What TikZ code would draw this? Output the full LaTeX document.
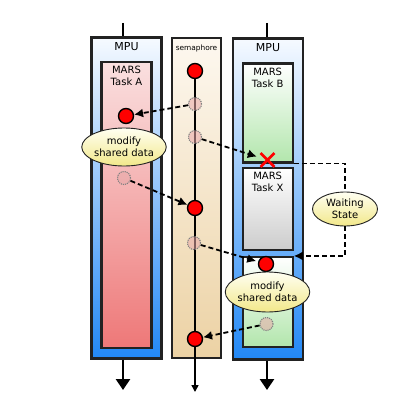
\documentclass[tikz,border=0pt]{standalone}
\usepackage{fontspec}
\setmainfont{DejaVu Sans}
\usetikzlibrary{arrows.meta,positioning,shapes.geometric,shapes.misc}

\definecolor{mputop}{HTML}{F6FAFF}
\definecolor{mpubot}{HTML}{2288F6}
\definecolor{semtop}{HTML}{FDF8F0}
\definecolor{sembot}{HTML}{ECD2A4}
\definecolor{pinktop}{HTML}{FAE0E0}
\definecolor{pinkbot}{HTML}{EE7878}
\definecolor{greenbot}{HTML}{B2E6AC}
\definecolor{graybot}{HTML}{CCCCCC}
\definecolor{bubtop}{HTML}{FFFFF2}
\definecolor{bubbot}{HTML}{F2E88A}
\definecolor{ghostpink}{HTML}{E8A8A8}
\definecolor{edge}{HTML}{222222}

\begin{document}
\begin{tikzpicture}[x=1pt,y=-1pt,
	box/.style={rectangle,draw=edge,line width=2.1pt,inner sep=0pt},
	mpu/.style={box,minimum width=70pt,minimum height=321pt,top color=mputop,bottom color=mpubot},
	task/.style={box,minimum width=50pt},
	lbl/.style={align=center,inner sep=0pt,font=\fontsize{10}{12}\selectfont},
	tok/.style={circle,draw=black,line width=1.4pt,fill=red,minimum size=15pt,inner sep=0pt},
	ghost/.style={circle,draw=gray,densely dotted,line width=1.1pt,fill=ghostpink,fill opacity=0.55,minimum size=13pt,inner sep=0pt},
	bubble/.style={ellipse,draw=edge,line width=0.9pt,top color=bubtop,bottom color=bubbot,inner sep=0pt,align=center,font=\fontsize{10}{12.5}\selectfont},
	flow/.style={dash pattern=on 5pt off 3pt,line width=1.8pt,-{Latex[length=9pt,width=9pt]}},
	life/.style={line width=2.8pt,-{Triangle[length=11pt,width=14pt]}}
]
	\useasboundingbox (0,0) rectangle (400,420);

	% processors and semaphore
	\node[mpu] (mpuA) at (126.5,198) {};
	\node[mpu] (mpuB) at (268,199) {};
	\node[box,minimum width=49pt,minimum height=320pt,top color=semtop,bottom color=sembot] (sem) at (196.5,198) {};

	\node[task,minimum height=286pt,top color=pinktop,bottom color=pinkbot] (taskA) at (126.5,205) {};
	\node[task,minimum height=99pt,top color=white,bottom color=greenbot] (taskB) at (267.7,113) {};
	\node[task,minimum height=82pt,top color=white,bottom color=graybot] (taskX) at (267.7,209) {};
	\node[task,minimum height=90pt,top color=white,bottom color=greenbot] (taskBb) at (267.7,302) {};

	\node[lbl,font=\fontsize{11}{13}\selectfont,below=6pt of mpuA.north] (mpuAlbl) {MPU};
	\node[lbl,font=\fontsize{11}{13}\selectfont,below=6pt of mpuB.north] (mpuBlbl) {MPU};
	\node[lbl,font=\fontsize{7.4}{9}\selectfont,below=8pt of sem.north] (semlbl) {semaphore};
	\node[lbl,below=5pt of taskA.north] (taskAlbl) {MARS\\Task A};
	\node[lbl,below=5pt of taskB.north] (taskBlbl) {MARS\\Task B};
	\node[lbl,below=5pt of taskX.north] (taskXlbl) {MARS\\Task X};

	% time lines
	\coordinate (topA) at (123,23);
	\coordinate (topB) at (267,23);
	\coordinate (endA) at (123,390);
	\coordinate (endB) at (267,390);
	\coordinate (semend) at (195,392);
	\draw[line width=2.8pt] (topA) -- (topA |- mpuA.north);
	\draw[line width=2.8pt] (topB) -- (topB |- mpuB.north);
	\draw[life] (endA |- mpuA.south) -- (endA);
	\draw[life] (endB |- mpuB.south) -- (endB);

	\node[tok] (s1) at (195,71) {};
	\draw[line width=1.6pt,-{Triangle[length=7pt,width=7pt]}] (s1) -- (semend);

	% semaphore tokens
	\node[tok] (s2) at (195,208) {};
	\node[tok] (s3) at (195,339) {};
	\node[tok] (rA) at (126,116) {};
	\node[tok] (rB) at (266,264) {};

	\node[ghost] (g1) at (195,104) {};
	\node[ghost] (g2) at (195,137) {};
	\node[ghost] (g3) at (194,243) {};
	\node[ghost] (gA) at (124,178) {};
	\node[ghost] (gB) at (266.5,324) {};

	\node[cross out,draw=red,line width=2.8pt,minimum size=11pt,inner sep=0pt] (cross) at (267.5,160) {};

	\path[flow] (g1) edge (rA);
	\path[flow] (g2) edge[shorten >=4pt] (cross);
	\path[flow] (gA) edge (s2);
	\path[flow] (g3) edge[shorten >=2pt] (rB);
	\path[flow] (gB) edge (s3);

	\node[bubble,minimum width=70pt,minimum height=38pt] (modA) at (124,147) {modify\\shared data};
	\node[bubble,minimum width=70pt,minimum height=40pt] (modB) at (267.5,292) {modify\\shared data};
	\node[bubble,minimum width=65pt,minimum height=34pt] (wait) at (345,209) {Waiting\\State};

	\draw[dash pattern=on 5pt off 3pt,line width=1.8pt] (taskB.south east) -| (wait.north);
	\draw[flow] (wait.south) |- (taskBb.north east);
\end{tikzpicture}
\end{document}
